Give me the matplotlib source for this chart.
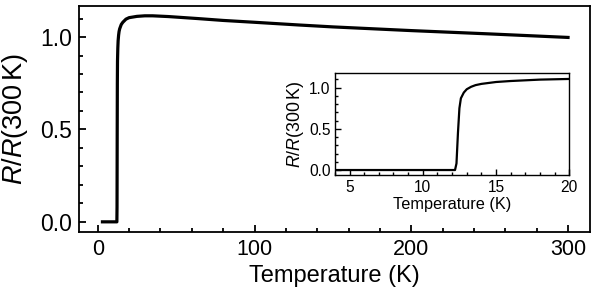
import numpy as np
import matplotlib
matplotlib.use("Agg")
import matplotlib.pyplot as plt
from matplotlib.ticker import MultipleLocator

plt.rcParams["font.family"] = ["Liberation Sans", "DejaVu Sans"]
plt.rcParams["mathtext.fontset"] = "custom"
plt.rcParams["mathtext.rm"] = "Liberation Sans"
plt.rcParams["mathtext.it"] = "Liberation Sans:italic"

# resistance ratio vs temperature
temperature = [3, 12.2, 12.3, 12.4, 12.5, 12.6, 12.8, 13.0, 13.3, 13.6, 14, 15, 16, 18, 20,
               25, 30, 35, 45, 64, 80, 100, 129, 150, 200, 250, 300]
r_ratio = [0, 0, 0.08, 0.45, 0.75, 0.87, 0.94, 0.98, 1.01, 1.03, 1.045, 1.068, 1.08, 1.097, 1.105,
           1.112, 1.115, 1.115, 1.111, 1.10, 1.09, 1.08, 1.065, 1.055, 1.035, 1.017, 0.998]

main_xticks = [0, 100, 200, 300]
main_yticks = [0.0, 0.5, 1.0]
inset_xticks = [5, 10, 15, 20]

ylabel = r"$\mathit{R}$/$\mathit{R}$(300$\,$K)"


def style(ax, lw, major, minor):
    for s in ax.spines.values():
        s.set_linewidth(lw)
    ax.tick_params(which="both", direction="in", top=False, right=False, width=lw)
    ax.tick_params(which="major", length=major)
    ax.tick_params(which="minor", length=minor)


fig = plt.figure(figsize=(5.98, 3.01), dpi=100)
ax = fig.add_axes([0.132, 0.228, 0.8546, 0.752])
ax.plot(temperature, r_ratio, color="black", lw=2.3)
ax.set_xlim(-12, 314)
ax.set_ylim(-0.057, 1.168)
ax.set_xticks(main_xticks)
ax.set_yticks(main_yticks)
ax.set_yticklabels([f"{v:.1f}" for v in main_yticks])
ax.xaxis.set_minor_locator(MultipleLocator(20))
ax.yaxis.set_minor_locator(MultipleLocator(0.1))
style(ax, 1.3, 5, 3)
ax.tick_params(axis="x", labelsize=15.5, pad=4.5)
ax.tick_params(axis="y", labelsize=16.5, pad=5)
ax.set_xlabel("Temperature (K)", fontsize=17, labelpad=4)
ax.set_ylabel(ylabel, fontsize=19.5, labelpad=7)

ins = fig.add_axes([0.560, 0.4176, 0.392, 0.339])
ins.plot(temperature, r_ratio, color="black", lw=1.6)
ins.set_xlim(4, 20)
ins.set_ylim(-0.064, 1.174)
ins.set_xticks(inset_xticks)
ins.set_yticks(main_yticks)
ins.set_yticklabels([f"{v:.1f}" for v in main_yticks])
ins.xaxis.set_minor_locator(MultipleLocator(1))
ins.yaxis.set_minor_locator(MultipleLocator(0.1))
style(ins, 1.0, 4, 2.5)
ins.tick_params(labelsize=11.2, pad=3.2)
ins.set_xlabel("Temperature (K)", fontsize=11.7, labelpad=1.5)
ins.set_ylabel(ylabel, fontsize=12.8, labelpad=2)

fig.savefig("out.png", dpi=100)
